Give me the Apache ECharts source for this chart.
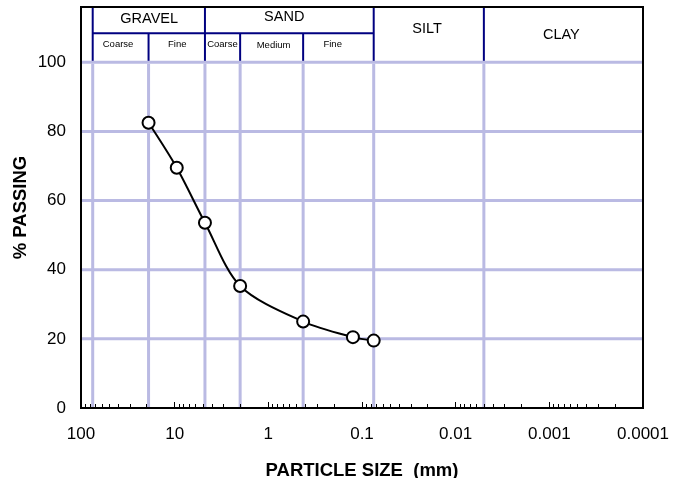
<!DOCTYPE html>
<html>
<head>
<meta charset="utf-8">
<script src="https://cdn.jsdelivr.net/npm/echarts@6/dist/echarts.min.js"></script>
<style>html,body{margin:0;padding:0;background:#fff}#c{width:675px;height:478px}</style>
</head>
<body>
<div id="c"></div>
<script>
// ---- data ----
const particleSize = [19, 9.5, 4.75, 2, 0.425, 0.125, 0.075];
const percentPassing = [82.5, 69.5, 53.6, 35.3, 25.0, 20.5, 19.5];

const xTickLabels = ['0.0001', '0.001', '0.01', '0.1', '1', '10', '100'];
const yTickValues = [0, 20, 40, 60, 80, 100];
const yGridValues = [20, 40, 60, 80, 100];

// soil classification boundaries (mm) and how high their header divider reaches (% axis units)
const boundarySizes = [75, 19, 4.75, 2, 0.425, 0.075, 0.005];
const boundaryTop = [116, 108.4, 116, 108.4, 108.4, 116, 116];
const headerRuleFrom = [75];
const headerRuleTo = [0.075];
const headerRuleLevel = [108.4];

const headerLabels = ['GRAVEL', 'SAND', 'SILT', 'CLAY', 'Coarse', 'Fine', 'Coarse', 'Medium', 'Fine'];
const headerLabelSize = [18.7, 0.676, 0.0202, 0.000745, 40.2, 9.38, 3.09, 0.879, 0.2055];
const headerLabelLevel = [112.4, 113.1, 109.7, 107.8, 105.2, 105.2, 105.2, 104.9, 105.2];
const headerLabelMajor = [1, 1, 1, 1, 0, 0, 0, 0, 0];

// ---- styles ----
const FONT = "'Liberation Sans', Arial, sans-serif";
const gridColor = '#babae3';
const navy = '#000080';
const xMin = 0.0001, xMax = 100, yMax = 116;

const chart = echarts.init(document.getElementById('c'), null, {renderer: 'canvas'});

const option = {
  animation: false,
  backgroundColor: '#fff',
  grid: {
    left: 81, right: 32, top: 7, bottom: 70,
    containLabel: false, outerBoundsMode: 'none',
    show: true, borderColor: '#000', borderWidth: 2, backgroundColor: 'transparent', z: 1.5
  },
  xAxis: {
    type: 'log', logBase: 10, min: xMin, max: xMax, inverse: true, splitNumber: 6, z: 2,
    name: 'PARTICLE SIZE  (mm)', nameLocation: 'middle', nameGap: 53, nameMoveOverlap: false,
    nameTextStyle: {fontFamily: FONT, fontSize: 18.5, fontWeight: 'bold', color: '#000'},
    axisLine: {show: false},
    axisTick: {show: true, inside: true, length: 6, lineStyle: {color: '#000', width: 1}},
    minorTick: {show: true, splitNumber: 9, length: 4, lineStyle: {color: '#000', width: 1}},
    splitLine: {show: false},
    minorSplitLine: {show: false},
    axisLabel: {
      fontFamily: FONT, fontSize: 17, color: '#000', margin: 18,
      showMinLabel: true, showMaxLabel: true,
      formatter: function (v) {
        const i = Math.round(Math.log10(v)) + 4;
        return xTickLabels[i] !== undefined ? xTickLabels[i] : '';
      }
    }
  },
  yAxis: {
    type: 'value', min: 0, max: yMax, interval: 20, z: 2,
    name: '% PASSING', nameLocation: 'middle', nameGap: 51, nameRotate: 90, nameMoveOverlap: false,
    nameTextStyle: {fontFamily: FONT, fontSize: 18.5, fontWeight: 'bold', color: '#000'},
    axisLine: {show: false},
    axisTick: {show: false},
    splitLine: {show: false},
    axisLabel: {
      fontFamily: FONT, fontSize: 17, color: '#000', margin: 15,
      formatter: function (v) { return yTickValues.indexOf(v) >= 0 ? String(v) : ''; }
    }
  },
  series: [
    {
      // horizontal grid lines
      type: 'custom', z: 1, silent: true,
      data: yGridValues.map(v => [xMax, v]),
      renderItem: function (params, api) {
        const y = api.value(1);
        const p1 = api.coord([xMax, y]);
        const p2 = api.coord([xMin, y]);
        return {type: 'line', shape: {x1: p1[0], y1: p1[1], x2: p2[0], y2: p2[1]},
          style: {stroke: gridColor, lineWidth: 3}};
      }
    },
    {
      // classification boundaries: light grid below 100 %, navy divider in header band
      type: 'custom', z: 1.2, silent: true,
      data: boundarySizes.map((s, i) => [s, boundaryTop[i]]),
      renderItem: function (params, api) {
        const s = api.value(0), top = api.value(1);
        const a = api.coord([s, 0]);
        const b = api.coord([s, 100]);
        const c = api.coord([s, top]);
        return {type: 'group', children: [
          {type: 'line', shape: {x1: a[0], y1: a[1], x2: b[0], y2: b[1] + 1.5},
            style: {stroke: gridColor, lineWidth: 3}},
          {type: 'line', shape: {x1: b[0], y1: b[1] - 1.5, x2: c[0], y2: c[1]},
            style: {stroke: navy, lineWidth: 2}}
        ]};
      }
    },
    {
      // header sub-division rule
      type: 'custom', z: 1.2, silent: true,
      data: headerRuleFrom.map((f, i) => [f, headerRuleLevel[i], headerRuleTo[i]]),
      renderItem: function (params, api) {
        const p1 = api.coord([api.value(0), api.value(1)]);
        const p2 = api.coord([api.value(2), api.value(1)]);
        return {type: 'line', shape: {x1: p1[0], y1: p1[1], x2: p2[0], y2: p2[1]},
          style: {stroke: navy, lineWidth: 2}};
      }
    },
    {
      // header texts
      type: 'custom', z: 1.3, silent: true,
      data: headerLabels.map((t, i) => [headerLabelSize[i], headerLabelLevel[i], i]),
      renderItem: function (params, api) {
        const i = api.value(2);
        const p = api.coord([api.value(0), api.value(1)]);
        return {type: 'text', x: p[0], y: p[1],
          style: {text: headerLabels[i], fontFamily: FONT,
            fontSize: headerLabelMajor[i] ? 14.5 : 9.5, fill: '#000',
            align: 'center', verticalAlign: 'middle'}};
      }
    },
    {
      type: 'line', z: 3,
      data: particleSize.map((s, i) => [s, percentPassing[i]]),
      smooth: 0.3,
      symbol: 'circle', symbolSize: 12,
      lineStyle: {color: '#000', width: 2},
      itemStyle: {color: '#fff', borderColor: '#000', borderWidth: 2}
    }
  ]
};
chart.setOption(option);
</script>
</body>
</html>
